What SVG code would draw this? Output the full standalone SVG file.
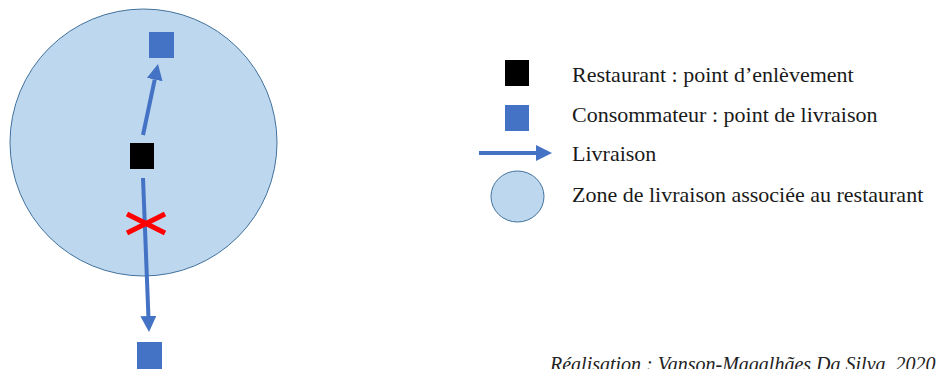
<svg xmlns="http://www.w3.org/2000/svg" width="939" height="369" viewBox="0 0 939 369">
<defs>
<style>
.lbl{font-family:"Liberation Serif","Times New Roman",serif;font-size:22px;fill:#1a1a1a}
.credit{font-family:"Liberation Serif","Times New Roman",serif;font-size:20px;font-style:italic;fill:#222}
.flow{stroke:#4472C4;stroke-width:4;fill:none}
.cust{fill:#4472C4}
.rest{fill:#000}
.zone{fill:#BDD7EE;stroke:#41719C;stroke-width:1}
.cross{stroke:#FF0000;stroke-width:5;fill:none}
</style>
<marker id="ah" markerUnits="userSpaceOnUse" markerWidth="16" markerHeight="16" refX="0" refY="8" orient="auto">
<path d="M0,0 L16,8 L0,16 Z" fill="#4472C4"/>
</marker>
</defs>
<rect width="939" height="369" fill="#fff"/>
<g id="zone"><circle class="zone" cx="143.5" cy="142.5" r="133.5"/></g>
<g id="restaurant"><rect class="rest" x="130" y="143" width="24" height="26"/></g>
<g id="consommateur-haut"><rect class="cust" x="149" y="32" width="25" height="26"/></g>
<g id="consommateur-bas"><rect class="cust" x="137" y="342" width="25" height="27"/></g>
<g id="connectors">
<line class="flow" x1="143" y1="135" x2="154.7" y2="79.6" marker-end="url(#ah)"/>
<line class="flow" x1="143" y1="178" x2="148.4" y2="316" marker-end="url(#ah)"/>
</g>
<g id="croix">
<line class="cross" x1="127" y1="214" x2="165" y2="233"/>
<line class="cross" x1="127" y1="233" x2="165" y2="214"/>
</g>
<g id="legende">
<rect class="rest" x="505" y="60" width="24" height="26"/>
<text class="lbl" x="572" y="82">Restaurant : point d’enlèvement</text>
<rect class="cust" x="505" y="105" width="24" height="26"/>
<text class="lbl" x="572" y="122">Consommateur : point de livraison</text>
<line class="flow" x1="479" y1="153" x2="536" y2="153" marker-end="url(#ah)"/>
<text class="lbl" x="572" y="161">Livraison</text>
<ellipse class="zone" cx="517.5" cy="196.5" rx="26.5" ry="25.5"/>
<text class="lbl" x="572" y="202">Zone de livraison associée au restaurant</text>
</g>
<text class="credit" x="550" y="371">Réalisation : Vanson-Magalhães Da Silva, 2020</text>
</svg>
